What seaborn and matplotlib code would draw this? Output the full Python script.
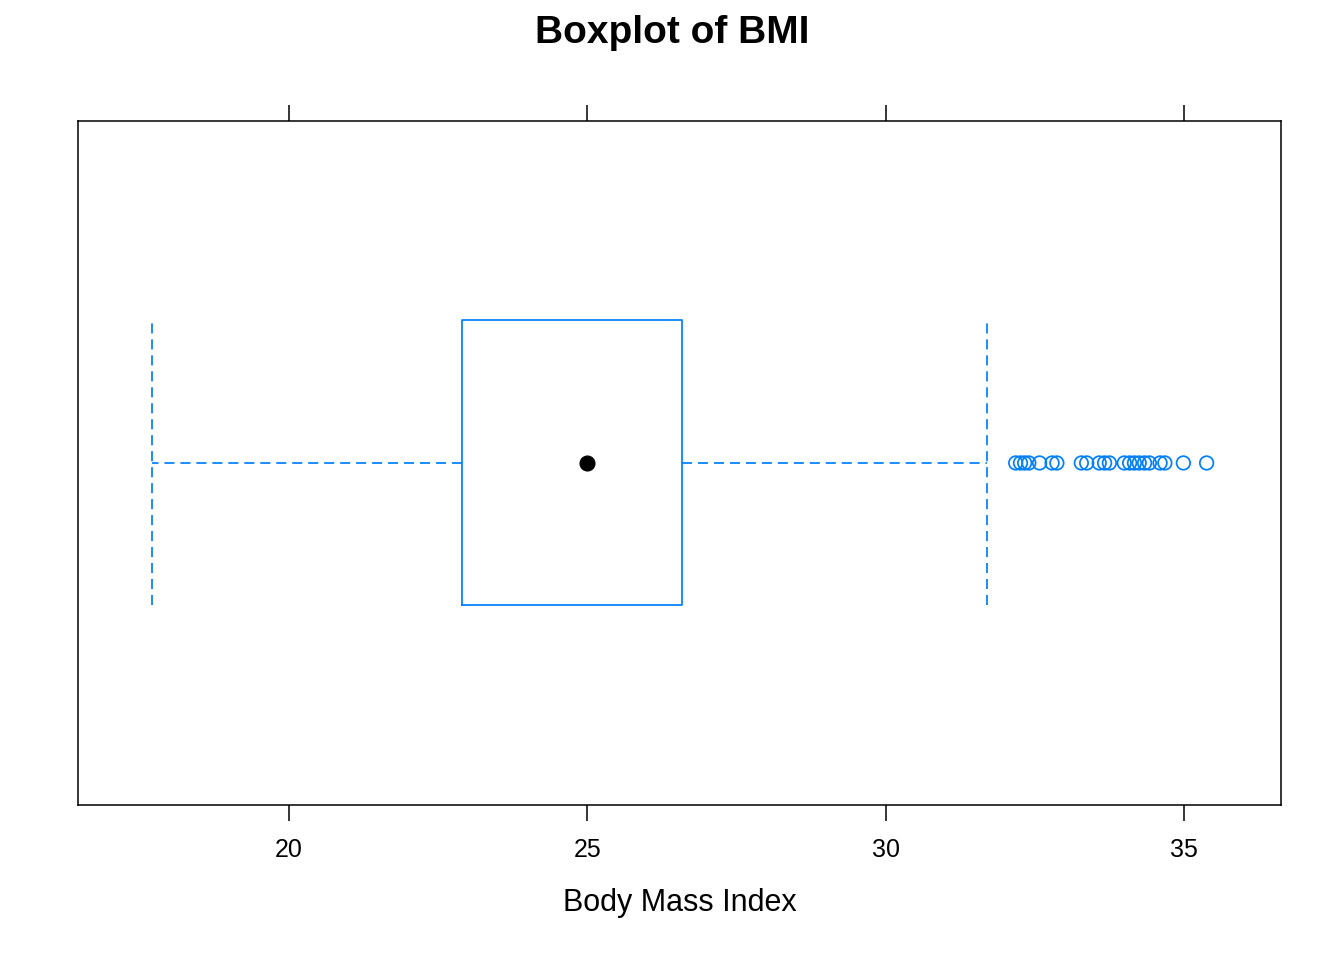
"""Lattice-style boxplot of BMI, redrawn with seaborn/matplotlib."""

import matplotlib

matplotlib.use("Agg")

import matplotlib.pyplot as plt
import pandas as pd
import seaborn as sns

# five-number summary
whisker_low = 17.70
q1 = 22.90
median = 24.99
q3 = 26.59
whisker_high = 31.70

# outliers beyond the upper whisker
outliers = [
    32.18, 32.26, 32.33, 32.40, 32.58, 32.79, 32.87, 33.28, 33.37, 33.58,
    33.67, 33.75, 34.00, 34.09, 34.17, 34.25, 34.34, 34.42, 34.60, 34.68,
    34.99, 35.38,
]

x_ticks = [20, 25, 30, 35]
x_limits = (16.464, 36.626)

BLUE = "#0080ff"


def set_theme() -> None:
    sns.set_theme(style="white")
    plt.rcParams["font.family"] = ["Liberation Sans", "DejaVu Sans"]
    plt.rcParams["axes.edgecolor"] = "black"
    plt.rcParams["axes.linewidth"] = 1.1
    plt.rcParams["text.color"] = "black"
    plt.rcParams["axes.labelcolor"] = "black"


def main() -> None:
    set_theme()
    fig = plt.figure(figsize=(13.44, 9.6), dpi=100)
    ax = fig.add_axes([0.0580, 0.1615, 0.8951, 0.7125])

    stats = [{
        "whislo": whisker_low,
        "q1": q1,
        "med": median,
        "q3": q3,
        "whishi": whisker_high,
        "fliers": [],
    }]
    dash = dict(color=BLUE, linewidth=1.25, linestyle=(0, (5.8, 3.4)))
    ax.bxp(
        stats,
        positions=[1],
        widths=0.5,
        capwidths=0.5,
        orientation="horizontal",
        showfliers=False,
        boxprops=dict(color=BLUE, linewidth=1.25),
        whiskerprops=dash,
        capprops=dash,
        medianprops=dict(visible=False),
    )

    out_df = pd.DataFrame({"bmi": outliers, "pos": [1] * len(outliers)})
    sns.scatterplot(
        data=out_df, x="bmi", y="pos", ax=ax, s=95, marker="o",
        facecolor="none", edgecolor=BLUE, linewidth=1.25, zorder=3,
    )
    med_df = pd.DataFrame({"bmi": [median], "pos": [1]})
    sns.scatterplot(
        data=med_df, x="bmi", y="pos", ax=ax, s=115, color="black",
        edgecolor="black", zorder=4,
    )

    ax.set_xlim(*x_limits)
    ax.set_ylim(0.4, 1.6)
    ax.set_xticks(x_ticks)
    ax.set_xticklabels([str(t) for t in x_ticks])
    ax.set_yticks([])
    ax.set_ylabel("")
    ax.tick_params(
        axis="x", which="both", direction="out", length=11.5, width=1.1,
        colors="black", labelsize=18, pad=12, top=True, labeltop=False,
        bottom=True,
    )
    ax.set_xlabel("Body Mass Index", fontsize=22, labelpad=19, color="black")
    fig.suptitle("Boxplot of BMI", fontsize=28, fontweight="bold", y=0.966,
                 va="center", color="black")

    fig.savefig("out.png", dpi=100)
    plt.close(fig)


if __name__ == "__main__":
    main()
